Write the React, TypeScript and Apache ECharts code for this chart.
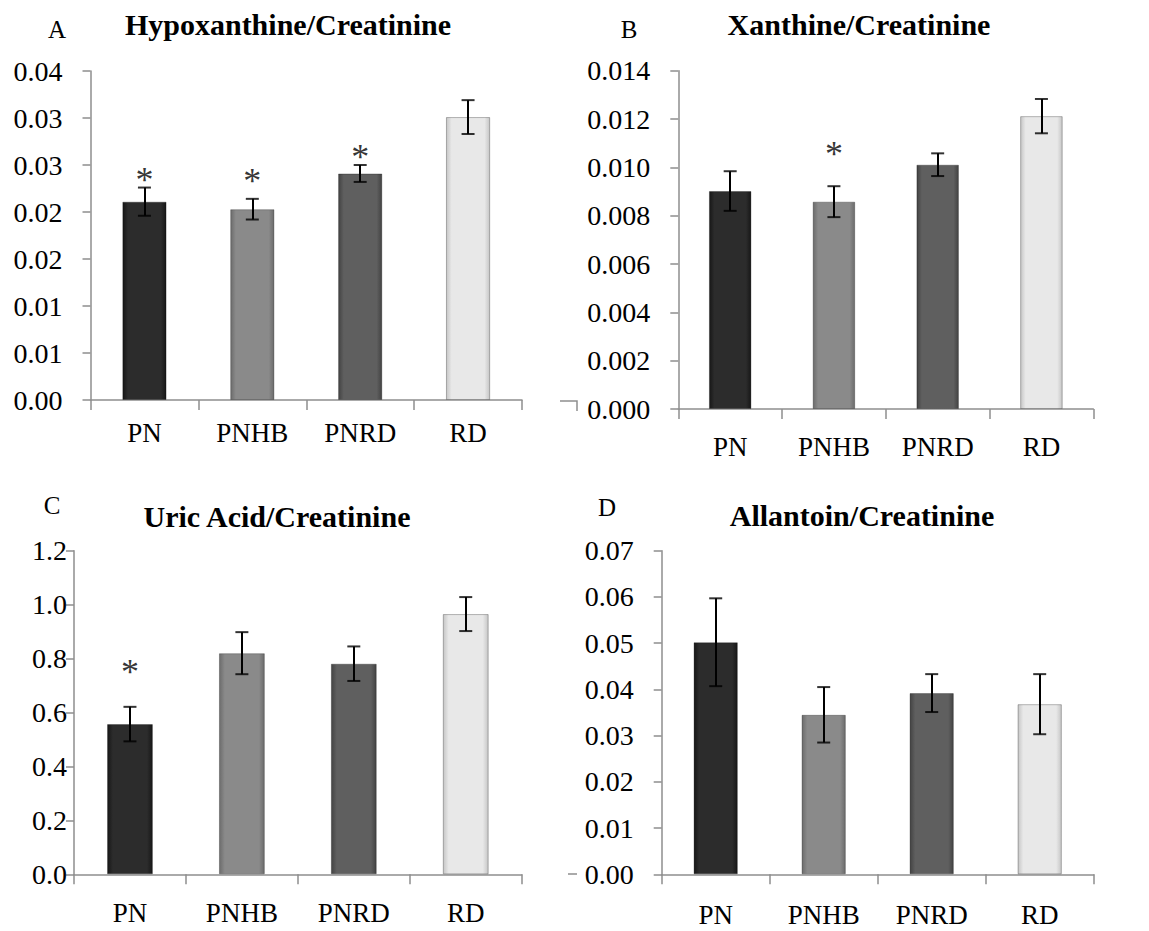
import React, { useEffect, useRef } from "react";
import * as echarts from "echarts";

const categories = ["PN", "PNHB", "PNRD", "RD"];

// Panel A: Hypoxanthine/Creatinine
const hypoMeans = [0.0211, 0.0203, 0.0241, 0.0301];
const hypoErrs = [0.0015, 0.0011, 0.0009, 0.0018];
const hypoStars = [0.0242, 0.024, 0.0266, null];
const hypoTicks = ["0.00", "0.01", "0.01", "0.02", "0.02", "0.03", "0.03", "0.04"];

// Panel B: Xanthine/Creatinine
const xanMeans = [0.00902, 0.00858, 0.01011, 0.01212];
const xanErrs = [0.00082, 0.00064, 0.00047, 0.00071];
const xanStars = [null, 0.01083, null, null];
const xanTicks = ["0.000", "0.002", "0.004", "0.006", "0.008", "0.010", "0.012", "0.014"];

// Panel C: Uric Acid/Creatinine
const uricMeans = [0.557, 0.82, 0.781, 0.965];
const uricErrs = [0.064, 0.078, 0.064, 0.063];
const uricStars = [0.776, null, null, null];
const uricTicks = ["0.0", "0.2", "0.4", "0.6", "0.8", "1.0", "1.2"];

// Panel D: Allantoin/Creatinine
const allanMeans = [0.0502, 0.0345, 0.0392, 0.0368];
const allanErrs = [0.0095, 0.006, 0.0041, 0.0065];
const allanStars = [null, null, null, null];
const allanTicks = ["0.00", "0.01", "0.02", "0.03", "0.04", "0.05", "0.06", "0.07"];

const SERIF = "Liberation Serif";
const AXIS_COLOR = "#8e8e8e";

const barShades = [
  { base: "#2c2c2c", edge: "#171717" },
  { base: "#8a8a8a", edge: "#6c6c6c" },
  { base: "#5f5f5f", edge: "#434343" },
  { base: "#e8e8e8", edge: "#c6c6c6" },
];

const barGradients = barShades.map(
  (s) =>
    new echarts.graphic.LinearGradient(0, 0, 1, 0, [
      { offset: 0, color: s.edge },
      { offset: 0.12, color: s.base },
      { offset: 0.88, color: s.base },
      { offset: 1, color: s.edge },
    ])
);

type Panel = {
  title: string;
  letter: string;
  means: number[];
  errs: number[];
  stars: (number | null)[];
  ticks: string[];
  interval: number;
  grid: { left: number; top: number; width: number; height: number };
  yMargin: number;
  xMargin: number;
  titlePos: [number, number];
  letterPos: [number, number];
};

const panels: Panel[] = [
  {
    title: "Hypoxanthine/Creatinine",
    letter: "A",
    means: hypoMeans,
    errs: hypoErrs,
    stars: hypoStars,
    ticks: hypoTicks,
    interval: 0.005,
    grid: { left: 90.5, top: 71, width: 431.5, height: 329 },
    yMargin: 28,
    xMargin: 18,
    titlePos: [288, 24],
    letterPos: [57, 29],
  },
  {
    title: "Xanthine/Creatinine",
    letter: "B",
    means: xanMeans,
    errs: xanErrs,
    stars: xanStars,
    ticks: xanTicks,
    interval: 0.002,
    grid: { left: 678.3, top: 70.7, width: 415, height: 338.3 },
    yMargin: 28,
    xMargin: 23,
    titlePos: [859, 24],
    letterPos: [629, 29],
  },
  {
    title: "Uric Acid/Creatinine",
    letter: "C",
    means: uricMeans,
    errs: uricErrs,
    stars: uricStars,
    ticks: uricTicks,
    interval: 0.2,
    grid: { left: 74, top: 550.7, width: 447.7, height: 323.6 },
    yMargin: 7,
    xMargin: 24,
    titlePos: [277, 516],
    letterPos: [52, 505],
  },
  {
    title: "Allantoin/Creatinine",
    letter: "D",
    means: allanMeans,
    errs: allanErrs,
    stars: allanStars,
    ticks: allanTicks,
    interval: 0.01,
    grid: { left: 661.7, top: 550.7, width: 432, height: 323.6 },
    yMargin: 28,
    xMargin: 26,
    titlePos: [862, 515],
    letterPos: [607, 507],
  },
];

function buildOption() {
  const grids: any[] = [];
  const xAxes: any[] = [];
  const yAxes: any[] = [];
  const series: any[] = [];
  const graphics: any[] = [];

  panels.forEach((p, k) => {
    grids.push({ ...p.grid, containLabel: false });
    xAxes.push({
      type: "category",
      gridIndex: k,
      data: categories,
      axisLine: { show: true, lineStyle: { color: AXIS_COLOR, width: 1.5 } },
      axisTick: { show: true, length: 10, lineStyle: { color: AXIS_COLOR, width: 1.5 } },
      axisLabel: {
        interval: 0,
        margin: p.xMargin,
        color: "#000",
        fontFamily: SERIF,
        fontSize: 27,
        lineHeight: 30,
      },
      splitLine: { show: false },
    });
    const maxV = p.interval * (p.ticks.length - 1);
    yAxes.push({
      type: "value",
      gridIndex: k,
      name: " ",
      min: 0,
      max: maxV,
      interval: p.interval,
      axisLine: { show: true, lineStyle: { color: AXIS_COLOR, width: 1.5 } },
      axisTick: { show: true, length: 8, lineStyle: { color: AXIS_COLOR, width: 1.5 } },
      splitLine: { show: false },
      axisLabel: {
        margin: p.yMargin,
        color: "#000",
        fontFamily: SERIF,
        fontSize: 28,
        formatter: (v: number) => p.ticks[Math.round(v / p.interval)] ?? "",
      },
    });

    // bars
    series.push({
      type: "bar",
      xAxisIndex: k,
      yAxisIndex: k,
      barWidth: "41%",
      data: p.means,
      itemStyle: {
        color: (params: any) => barGradients[params.dataIndex],
        borderColor: "rgba(0,0,0,0.28)",
        borderWidth: 1,
      },
      z: 2,
    });

    // error bars: caps as scatter marks, stems as mark lines
    const capData: number[][] = [];
    p.means.forEach((m, i) => {
      capData.push([i, m - p.errs[i]]);
      capData.push([i, m + p.errs[i]]);
    });
    series.push({
      type: "scatter",
      xAxisIndex: k,
      yAxisIndex: k,
      data: capData,
      symbol: "rect",
      symbolSize: [13, 2],
      itemStyle: { color: "#000" },
      silent: true,
      z: 10,
      markLine: {
        silent: true,
        symbol: ["none", "none"],
        label: { show: false },
        lineStyle: { color: "#000", width: 2, type: "solid" },
        emphasis: { disabled: true },
        data: p.means.map((m, i) => [
          { coord: [categories[i], m - p.errs[i]] },
          { coord: [categories[i], m + p.errs[i]] },
        ]),
      },
    });

    // significance asterisks
    const starData = p.stars
      .map((v, i) => (v == null ? null : [i, v]))
      .filter((d) => d != null);
    series.push({
      type: "scatter",
      xAxisIndex: k,
      yAxisIndex: k,
      data: starData,
      symbol: "circle",
      symbolSize: 1,
      itemStyle: { color: "rgba(0,0,0,0)" },
      silent: true,
      z: 11,
      label: {
        show: true,
        position: "inside",
        formatter: "*",
        color: "#000",
        fontFamily: SERIF,
        fontSize: 36,
        offset: [0, 7],
      },
    });

    graphics.push({
      type: "text",
      x: p.titlePos[0],
      y: p.titlePos[1],
      style: {
        text: p.title,
        fill: "#000",
        fontFamily: SERIF,
        fontWeight: "bold",
        fontSize: 30,
        textAlign: "center",
        textVerticalAlign: "middle",
      },
    });
    graphics.push({
      type: "text",
      x: p.letterPos[0],
      y: p.letterPos[1],
      style: {
        text: p.letter,
        fill: "#000",
        fontFamily: SERIF,
        fontSize: 25,
        textAlign: "center",
        textVerticalAlign: "middle",
      },
    });
  });

  // small stray axis fragments visible at the left edge of the right-hand panels
  graphics.push({
    type: "polyline",
    shape: { points: [[560, 401], [577, 401], [577, 411]] },
    style: { stroke: AXIS_COLOR, lineWidth: 1.5, fill: "none" },
  });
  graphics.push({
    type: "line",
    shape: { x1: 568, y1: 874, x2: 577, y2: 874 },
    style: { stroke: AXIS_COLOR, lineWidth: 1.5 },
  });

  return {
    animation: false,
    backgroundColor: "#ffffff",
    grid: grids,
    xAxis: xAxes,
    yAxis: yAxes,
    series,
    graphic: graphics,
  };
}

export default function App() {
  const ref = useRef<HTMLDivElement>(null);
  useEffect(() => {
    if (!ref.current) return;
    const chart = echarts.init(ref.current, undefined, { renderer: "svg" });
    chart.setOption(buildOption() as any);
    return () => chart.dispose();
  }, []);
  return (
    <div
      ref={ref}
      style={{ position: "absolute", left: 0, top: 0, width: 1149, height: 931, background: "#fff" }}
    />
  );
}
